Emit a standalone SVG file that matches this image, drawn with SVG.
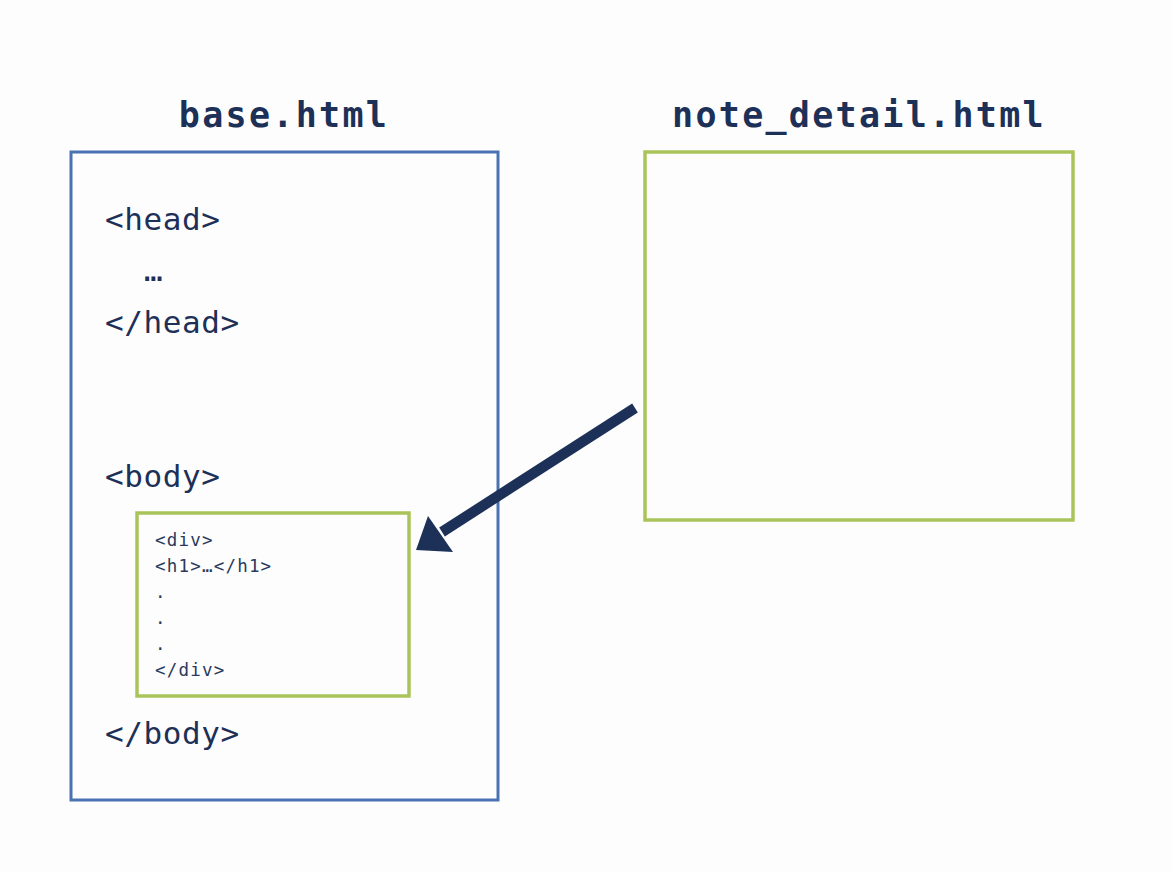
<svg xmlns="http://www.w3.org/2000/svg" width="1172" height="872" viewBox="0 0 1172 872">
<style>
.title{font-family:"DejaVu Sans Mono","Liberation Mono",monospace;font-weight:bold;font-size:35px;fill:#1d3057;letter-spacing:2.3px}
.tag{font-family:"DejaVu Sans Mono","Liberation Mono",monospace;font-size:31px;fill:#1d3057;letter-spacing:0.6px}
.code{font-family:"DejaVu Sans Mono","Liberation Mono",monospace;font-size:17.5px;fill:#2a3a5c;letter-spacing:1.2px}
.blue{fill:none;stroke:#4a72b0;stroke-width:3}
.green{fill:none;stroke:#a9c45a;stroke-width:3.5}
</style>
<rect width="1172" height="872" fill="#fdfdfd"/>
<g id="base">
<text class="title" x="284" y="127" text-anchor="middle">base.html</text>
<rect class="blue" x="71" y="152" width="427" height="648"/>
<text class="tag" x="105" y="230">&lt;head&gt;</text>
<text class="tag" x="144" y="281">…</text>
<text class="tag" x="105" y="333">&lt;/head&gt;</text>
<text class="tag" x="105" y="487">&lt;body&gt;</text>
<text class="tag" x="105" y="744">&lt;/body&gt;</text>
</g>
<g id="block">
<rect class="green" x="137" y="513" width="272" height="183"/>
<text class="code" x="155" y="546">&lt;div&gt;</text>
<text class="code" x="155" y="572">&lt;h1&gt;…&lt;/h1&gt;</text>
<text class="code" x="155" y="598">.</text>
<text class="code" x="155" y="624">.</text>
<text class="code" x="155" y="650">.</text>
<text class="code" x="155" y="676">&lt;/div&gt;</text>
</g>
<g id="note_detail">
<text class="title" x="859" y="127" text-anchor="middle">note_detail.html</text>
<rect class="green" x="645" y="152" width="428" height="368"/>
</g>
<g id="connectors">
<line x1="635" y1="408" x2="442" y2="532" stroke="#1d3057" stroke-width="10.5"/>
<polygon points="416,550 428,516 453,552" fill="#1d3057"/>
</g>
</svg>
